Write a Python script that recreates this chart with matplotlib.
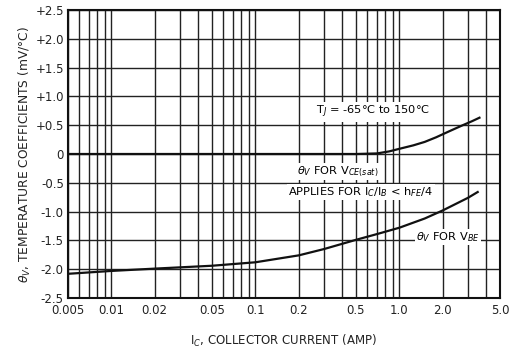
import matplotlib
matplotlib.use("Agg")
import matplotlib.pyplot as plt
from matplotlib.ticker import FixedLocator, NullFormatter

# Data
ic_vce = [0.005, 0.1, 0.5, 0.7, 0.85, 1.0, 1.25, 1.5, 1.8, 2.2, 2.7, 3.2, 3.6]
tc_vce = [0.0, 0.0, 0.0, 0.01, 0.045, 0.09, 0.15, 0.21, 0.29, 0.39, 0.49, 0.57, 0.63]

ic_vbe = [0.005, 0.01, 0.02, 0.05, 0.1, 0.2, 0.3, 0.5, 0.7, 1.0, 1.5, 2.0, 3.0, 3.5]
tc_vbe = [-2.08, -2.03, -1.99, -1.94, -1.88, -1.76, -1.65, -1.49, -1.39, -1.28, -1.12, -0.98, -0.76, -0.66]

xticks = [0.005, 0.01, 0.02, 0.05, 0.1, 0.2, 0.5, 1.0, 2.0, 5.0]
xticklabels = ["0.005", "0.01", "0.02", "0.05", "0.1", "0.2", "0.5", "1.0", "2.0", "5.0"]
yticks = [-2.5, -2.0, -1.5, -1.0, -0.5, 0, 0.5, 1.0, 1.5, 2.0, 2.5]
yticklabels = ["-2.5", "-2.0", "-1.5", "-1.0", "-0.5", "0", "+0.5", "+1.0", "+1.5", "+2.0", "+2.5"]

plt.rcParams['font.family'] = ['DejaVu Sans']
fig = plt.figure(figsize=(5.22, 3.55), dpi=100)
ax = fig.add_axes([68/522, 57/355, 432/522, 288/355])

ax.set_xscale('log')
ax.set_xlim(0.005, 5.0)
ax.set_ylim(-2.5, 2.5)

# grid lines at every log sub-division
minor = []
for dec in [0.001, 0.01, 0.1, 1.0]:
    for m in range(1, 10):
        v = round(m * dec, 6)
        if 0.005 <= v <= 5.0:
            minor.append(v)
for v in minor:
    ax.axvline(v, color='#222222', lw=1.0, zorder=1)
for v in yticks:
    ax.axhline(v, color='#222222', lw=1.0, zorder=1)

ax.plot(ic_vce, tc_vce, color='#111111', lw=1.6, zorder=3)
ax.plot(ic_vbe, tc_vbe, color='#111111', lw=1.6, zorder=3)

ax.xaxis.set_major_locator(FixedLocator(xticks))
ax.set_xticklabels(xticklabels)
ax.xaxis.set_minor_locator(FixedLocator(minor))
ax.xaxis.set_minor_formatter(NullFormatter())
ax.set_yticks(yticks)
ax.set_yticklabels(yticklabels)
ax.tick_params(axis='both', which='both', length=0, labelsize=8.5, colors='#222222', pad=4)
ax.tick_params(axis='y', pad=3)
for s in ax.spines.values():
    s.set_linewidth(1.5)
    s.set_color('#111111')

ax.set_xlabel(r"I$_C$, COLLECTOR CURRENT (AMP)", fontsize=8.5, color='#222222', labelpad=12)
ax.set_ylabel(r"$\theta_V$, TEMPERATURE COEFFICIENTS (mV/°C)", fontsize=8.8, color='#222222', labelpad=2)

bb = dict(facecolor='white', edgecolor='none', pad=1.0)
ax.text(0.66, 0.73, r"T$_J$ = -65°C to 150°C", fontsize=8.2, ha='center', va='center', bbox=bb, zorder=4)
ax.text(0.375, -0.31, r"$\theta_V$ FOR V$_{CE(sat)}$", fontsize=8.2, ha='center', va='center', bbox=bb, zorder=4)
ax.text(0.54, -0.66, r"APPLIES FOR I$_C$/I$_B$ < h$_{FE}$/4", fontsize=8.2, ha='center', va='center', bbox=bb, zorder=4)
ax.text(2.18, -1.44, r"$\theta_V$ FOR V$_{BE}$", fontsize=8.2, ha='center', va='center', bbox=bb, zorder=4)

fig.savefig("out.png", dpi=100)
